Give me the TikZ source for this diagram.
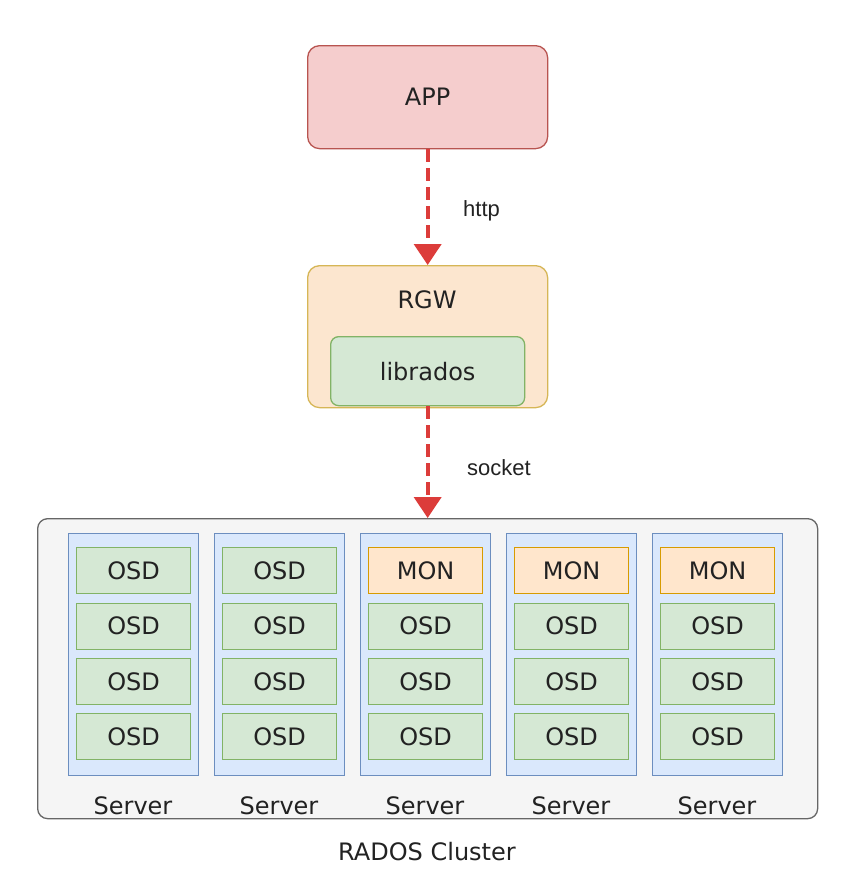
\documentclass[tikz,border=0pt]{standalone}
\usepackage{fontspec}
\setmainfont{DejaVu Sans}
\newfontfamily\arialf{Liberation Sans}
\usetikzlibrary{arrows.meta}
\definecolor{appfill}{HTML}{F5CDCD}
\definecolor{appdraw}{HTML}{B85450}
\definecolor{rgwfill}{HTML}{FCE6CF}
\definecolor{rgwdraw}{HTML}{D6B656}
\definecolor{grnfill}{HTML}{D5E8D4}
\definecolor{grndraw}{HTML}{82B366}
\definecolor{clfill}{HTML}{F5F5F5}
\definecolor{cldraw}{HTML}{666666}
\definecolor{srvfill}{HTML}{DAE8FC}
\definecolor{srvdraw}{HTML}{6C8EBF}
\definecolor{monfill}{HTML}{FFE6CC}
\definecolor{mondraw}{HTML}{D79B00}
\definecolor{arrred}{HTML}{DC3C3A}
\definecolor{txt}{HTML}{222222}
\begin{document}
\begin{tikzpicture}[x=1pt,y=-1pt,
  box/.style={draw, line width=1.3pt, inner sep=0pt, anchor=north west, text=txt,
    font=\fontsize{24}{27}\selectfont},
  osd/.style={box, fill=grnfill, draw=grndraw, minimum width=114pt, minimum height=46pt},
  mon/.style={box, fill=monfill, draw=mondraw, minimum width=114pt, minimum height=46pt},
  srv/.style={box, fill=srvfill, draw=srvdraw, minimum width=130pt, minimum height=242pt},
  lbl/.style={inner sep=0pt, text=txt, font=\fontsize{24}{27}\selectfont},
  arl/.style={inner sep=0pt, text=txt, anchor=west, font=\arialf\fontsize{22}{26}\selectfont},
  flow/.style={draw=arrred, line width=4pt, dash pattern=on 13pt off 6pt,
    -{Triangle[length=21pt,width=27pt]}}
]
\useasboundingbox (0,0) rectangle (854,884);
\fill[white] (0,0) rectangle (854,884);

\node[box, fill=appfill, draw=appdraw, rounded corners=12pt,
  minimum width=240pt, minimum height=103pt] (app) at (307,45) {APP};

\node[box, fill=rgwfill, draw=rgwdraw, rounded corners=12pt,
  minimum width=240pt, minimum height=142pt] (rgw) at (307,265) {};
\node[lbl] (rgwl) at (427,300) {RGW};
\node[box, fill=grnfill, draw=grndraw, rounded corners=8pt,
  minimum width=194pt, minimum height=69pt] (lib) at (330,336) {librados};

\node[box, fill=clfill, draw=cldraw, rounded corners=10pt,
  minimum width=780pt, minimum height=300pt] (cl) at (37,518) {};

\foreach \i in {0,...,4} {
  \node[srv] (s\i) at (68+146*\i,533) {};
  \node[lbl] (sl\i) at (133+146*\i,806) {Server};
}
\foreach \i in {0,1} {
  \node[osd] (b\i0) at (76+146*\i,547) {OSD};
}
\foreach \i in {2,3,4} {
  \node[mon] (b\i0) at (76+146*\i,547) {MON};
}
\foreach \i in {0,...,4} {
  \node[osd] (b\i1) at (76+146*\i,602.5) {OSD};
  \node[osd] (b\i2) at (76+146*\i,658) {OSD};
  \node[osd] (b\i3) at (76+146*\i,713) {OSD};
}
\node[lbl] (rados) at (427,852) {RADOS Cluster};

\draw[flow] (app.south) -- (rgw.north);
\draw[flow] (lib.south) -- (cl.north -| lib.south);
\node[arl] (http) at (463,211) {http};
\node[arl] (sock) at (467,468) {socket};
\end{tikzpicture}
\end{document}
